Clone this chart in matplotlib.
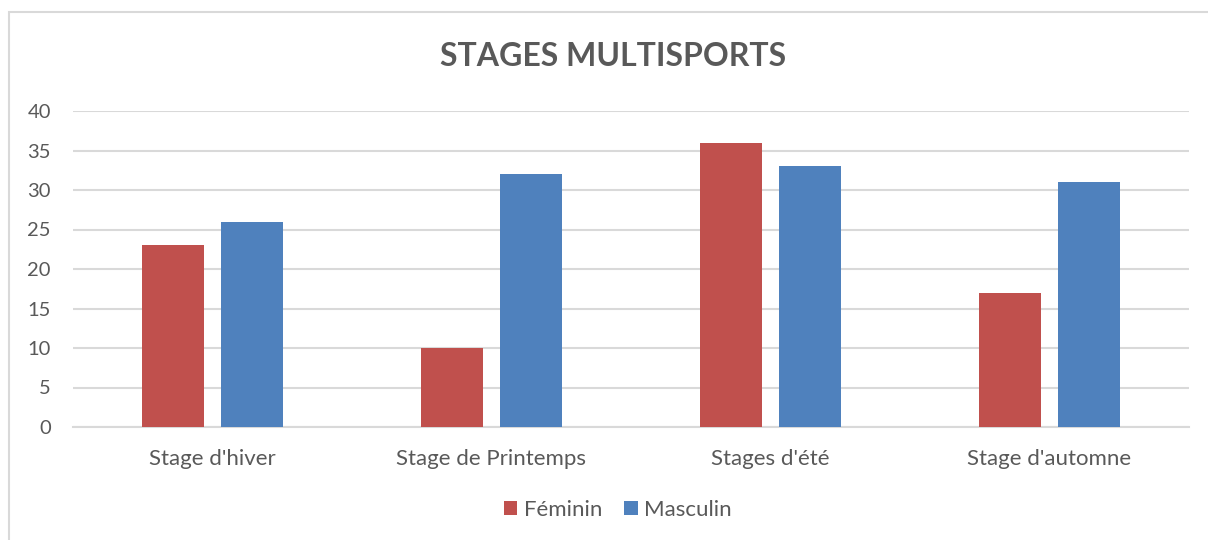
import matplotlib
matplotlib.use("Agg")
import matplotlib.pyplot as plt
import numpy as np
from matplotlib.patches import Rectangle

categories = ["Stage d'hiver", "Stage de Printemps", "Stages d'été", "Stage d'automne"]
feminin = [23, 10, 36, 17]
masculin = [26, 32, 33, 31]
series_names = ["Féminin", "Masculin"]
colors = ["#C0504D", "#4F81BD"]
yticks = [0, 5, 10, 15, 20, 25, 30, 35, 40]

plt.rcParams['font.family'] = ['Lato', 'DejaVu Sans']
txt = "#595959"

fig = plt.figure(figsize=(12.08, 5.40), dpi=100)
fig.patch.set_facecolor("white")
fig.patches.append(Rectangle((9/1208, -0.1), 1.2, 1 - 12/540 + 0.1, transform=fig.transFigure,
                             fill=False, edgecolor="#D9D9D9", linewidth=1.5))

ax = fig.add_axes([73/1208, 113/540, 1116/1208, 316/540])
x = np.arange(len(categories))
w = 0.222
off = 0.1416
ax.bar(x - off, feminin, w, color=colors[0], label=series_names[0], zorder=3)
ax.bar(x + off, masculin, w, color=colors[1], label=series_names[1], zorder=3)

ax.set_xlim(-0.5, len(categories) - 0.5)
ax.set_ylim(0, 40)
ax.set_yticks(yticks)
ax.yaxis.grid(True, color="#D9D9D9", linewidth=1.5, zorder=0)
ax.set_axisbelow(True)
for s in ["top", "right", "left"]:
    ax.spines[s].set_visible(False)
ax.spines["bottom"].set_color("#D9D9D9")
ax.spines["bottom"].set_linewidth(1.5)
ax.tick_params(axis="both", length=0, colors=txt)
ax.tick_params(axis="y", pad=16, labelsize=14.5)
ax.tick_params(axis="x", pad=15.5, labelsize=16)
ax.set_xticks(x)
ax.set_xticklabels(categories)

fig.text(613/1208, 1 - 57/540, "STAGES MULTISPORTS", ha="center", va="center",
         fontsize=23, fontweight="bold", color=txt)

fig.legend(loc="center", bbox_to_anchor=(618/1208, 30/540), ncol=2, frameon=False,
           fontsize=16, labelcolor=txt, handlelength=0.6, handleheight=0.6,
           handletextpad=0.3, columnspacing=1.0)

fig.savefig("out.png", dpi=100)
